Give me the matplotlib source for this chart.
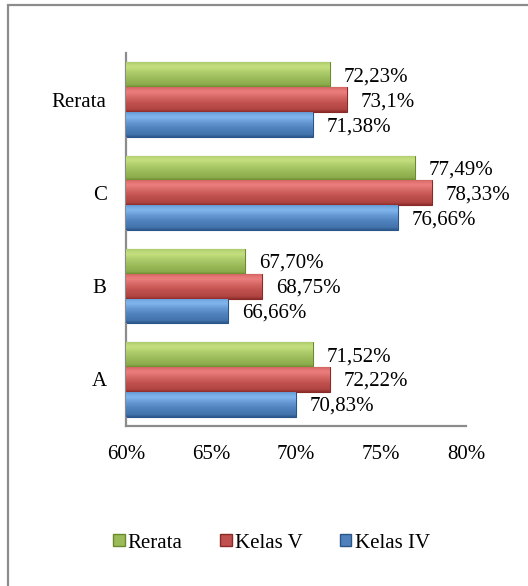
import numpy as np
import matplotlib.pyplot as plt
from matplotlib.patches import Patch, Rectangle
from matplotlib.colors import LinearSegmentedColormap
from matplotlib.ticker import FuncFormatter

plt.rcParams['font.family'] = ['Liberation Serif', 'DejaVu Serif']

# --- data (bar lengths as drawn in the chart, labels as printed) ---
categories = ['A', 'B', 'C', 'Rerata']
kelas_iv = [70, 66, 76, 71]
kelas_v = [72, 68, 78, 73]
rerata = [71, 67, 77, 72]
kelas_iv_lbl = ['70,83%', '66,66%', '76,66%', '71,38%']
kelas_v_lbl = ['72,22%', '68,75%', '78,33%', '73,1%']
rerata_lbl = ['71,52%', '67,70%', '77,49%', '72,23%']
x_ticks = [60, 65, 70, 75, 80]

# series: name, values, labels, (light, base, dark)
series = [
    ('Kelas IV', kelas_iv, kelas_iv_lbl, ('#86bbf2', '#4f81bd', '#2a5588')),
    ('Kelas V', kelas_v, kelas_v_lbl, ('#f08482', '#c0504d', '#8a2a28')),
    ('Rerata', rerata, rerata_lbl, ('#c8e383', '#9bbb59', '#6b8a30')),
]

FS = 15

fig = plt.figure(figsize=(5.28, 5.86), dpi=100)
ax = fig.add_axes([126 / 528, 1 - 426 / 586, 340 / 528, 373 / 586])

# outer frame (runs off the right and bottom edge, like the source)
fig.patches.append(Rectangle((8 / 528, -0.1), 1.2, 1.1 - 5 / 586,
                             transform=fig.transFigure, fill=False,
                             edgecolor='#8c8c8c', linewidth=1.6))

y = np.arange(len(categories))
h = 0.267
offsets = [-h, 0, h]

# vertical shading profile, bottom -> top (0 = dark, 0.5 = base, 1 = light)
prof_pos = [0.0, 0.10, 0.35, 0.60, 0.80, 0.92, 1.0]
prof_val = [0.05, 0.35, 0.50, 0.72, 0.95, 0.85, 0.70]
grad = np.interp(np.linspace(0, 1, 60), prof_pos, prof_val).reshape(-1, 1)


def shade(bar, light, base, dark):
    cmap = LinearSegmentedColormap.from_list('g', [dark, base, light])
    x0, y0 = bar.get_x(), bar.get_y()
    im = ax.imshow(grad, cmap=cmap, vmin=0, vmax=1, aspect='auto', origin='lower',
                   extent=(x0, x0 + bar.get_width(), y0, y0 + bar.get_height()),
                   interpolation='bilinear', zorder=3)
    im.set_clip_path(bar)


for (name, vals, lbls, cols), off in zip(series, offsets):
    bars = ax.barh(y + off, np.array(vals) - 60, left=60, height=h,
                   color=cols[1], edgecolor=cols[2], linewidth=0.8, zorder=2)
    for b, txt in zip(bars, lbls):
        shade(b, *cols)
        ax.annotate(txt, (b.get_x() + b.get_width(), b.get_y() + h / 2),
                    xytext=(10, -1.5), textcoords='offset points',
                    ha='left', va='center', fontsize=FS)

ax.set_xlim(60, 80)
ax.set_ylim(-0.5, len(categories) - 0.5)
ax.set_xticks(x_ticks)
ax.xaxis.set_major_formatter(FuncFormatter(lambda v, p: f'{v:.0f}%'))
ax.set_yticks(y)
ax.set_yticklabels(categories)
ax.tick_params(axis='both', length=0, labelsize=FS)
ax.tick_params(axis='y', pad=14)
ax.tick_params(axis='x', pad=13.5)
for s in ['top', 'right']:
    ax.spines[s].set_visible(False)
for s in ['left', 'bottom']:
    ax.spines[s].set_color('#8c8c8c')
    ax.spines[s].set_linewidth(1.6)

handles = [Patch(facecolor=cols[1], edgecolor=cols[2], label=name)
           for name, _, _, cols in series[::-1]]
fig.legend(handles=handles, loc='center', bbox_to_anchor=(0.514, 1 - 543 / 586),
           ncol=3, frameon=False, fontsize=FS, handlelength=0.55,
           handleheight=0.55, handletextpad=0.15, columnspacing=1.8)

fig.savefig('out.png', dpi=100)
